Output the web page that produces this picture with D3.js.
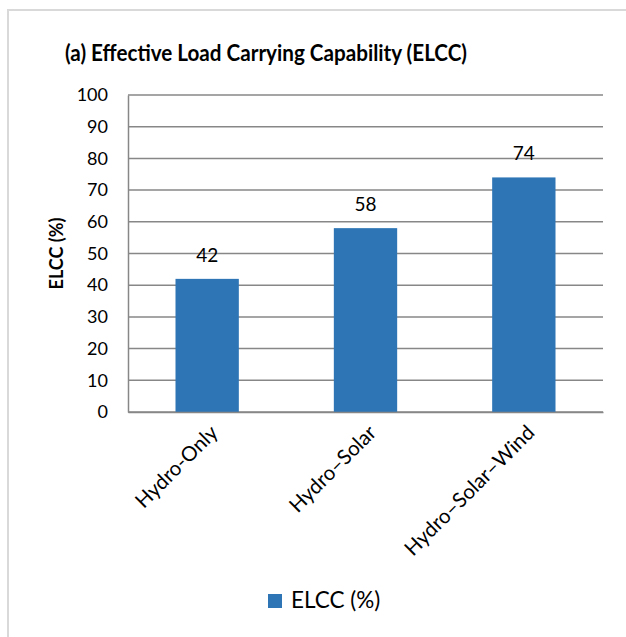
<!DOCTYPE html>
<html><head><meta charset="utf-8">
<script src="https://cdn.jsdelivr.net/npm/d3@7"></script>
<style>body{margin:0;background:#fff;} svg{display:block;}</style>
</head><body>
<script>
const categories = ["Hydro-Only", "Hydro–Solar", "Hydro–Solar–Wind"];
const elccValues = [42, 58, 74];
const yTicks = [0,10,20,30,40,50,60,70,80,90,100];
const seriesName = "ELCC (%)";
const titleText = "(a) Effective Load Carrying Capability (ELCC)";

const W = 626, H = 637;
const font = "Lato, 'Open Sans', sans-serif";
const svg = d3.select("body").append("svg").attr("width", W).attr("height", H);
svg.append("rect").attr("width", W).attr("height", H).attr("fill", "#fff");
svg.append("path").attr("d", `M8,${H} L8,10 L${W},10`).attr("fill","none").attr("stroke","#d9d9d9").attr("stroke-width",2);

const m = {left:128, right:603, top:95, bottom:412};
const x = d3.scaleBand().domain(categories).range([m.left, m.right]);
const y = d3.scaleLinear().domain([0,100]).range([m.bottom, m.top]);

svg.append("text").attr("x", 266).attr("y", 61).attr("text-anchor","middle")
  .attr("font-family", font).attr("font-weight","bold").attr("font-size", 22.5)
  .attr("textLength", 402).attr("lengthAdjust","spacingAndGlyphs")
  .attr("fill","#000").text(titleText);

svg.append("g").selectAll("line").data(yTicks).join("line")
  .attr("x1", m.left).attr("x2", m.right).attr("y1", d=>y(d)).attr("y2", d=>y(d))
  .attr("stroke","#878787").attr("stroke-width",1.5);

const yAxis = svg.append("g").attr("transform", `translate(${m.left},0)`)
  .call(d3.axisLeft(y).tickValues(yTicks).tickSize(0).tickPadding(20));
yAxis.select(".domain").attr("stroke","#878787").attr("stroke-width",1.5);
yAxis.selectAll("text").attr("font-family", font).attr("font-size", 18).attr("fill","#000");

svg.append("text").attr("transform", `translate(63,${(m.top+m.bottom)/2}) rotate(-90)`)
  .attr("text-anchor","middle").attr("font-family", font).attr("font-weight","bold").attr("font-size",18).text("ELCC (%)");

const bw = x.bandwidth()*0.4;
svg.append("g").selectAll("rect").data(elccValues).join("rect")
  .attr("x", (d,i)=>x(categories[i]) + x.bandwidth()/2 - bw/2)
  .attr("width", bw).attr("y", d=>y(d)).attr("height", d=>y(0)-y(d)).attr("fill","#2e75b6");

svg.append("g").selectAll("text").data(elccValues).join("text")
  .attr("x", (d,i)=>x(categories[i]) + x.bandwidth()/2).attr("y", d=>y(d)-17)
  .attr("text-anchor","middle").attr("font-family", font).attr("font-size",19).attr("fill","#000").text(d=>d);

const xAxis = svg.append("g").attr("transform", `translate(0,${m.bottom})`)
  .call(d3.axisBottom(x).tickSize(0).tickPadding(0));
xAxis.select(".domain").attr("stroke","#878787").attr("stroke-width",1.5);
xAxis.selectAll("text").attr("font-family", font).attr("font-size",20.5).attr("fill","#000")
  .attr("text-anchor","end").attr("dy",null).attr("y",0)
  .attr("transform","translate(12,22) rotate(-45)");

svg.append("rect").attr("x",268).attr("y",594).attr("width",14).attr("height",14).attr("fill","#2e75b6");
svg.append("text").attr("x",291).attr("y",608).attr("font-family", font).attr("font-size",22.5).attr("fill","#000").text(seriesName);
</script>
</body></html>
